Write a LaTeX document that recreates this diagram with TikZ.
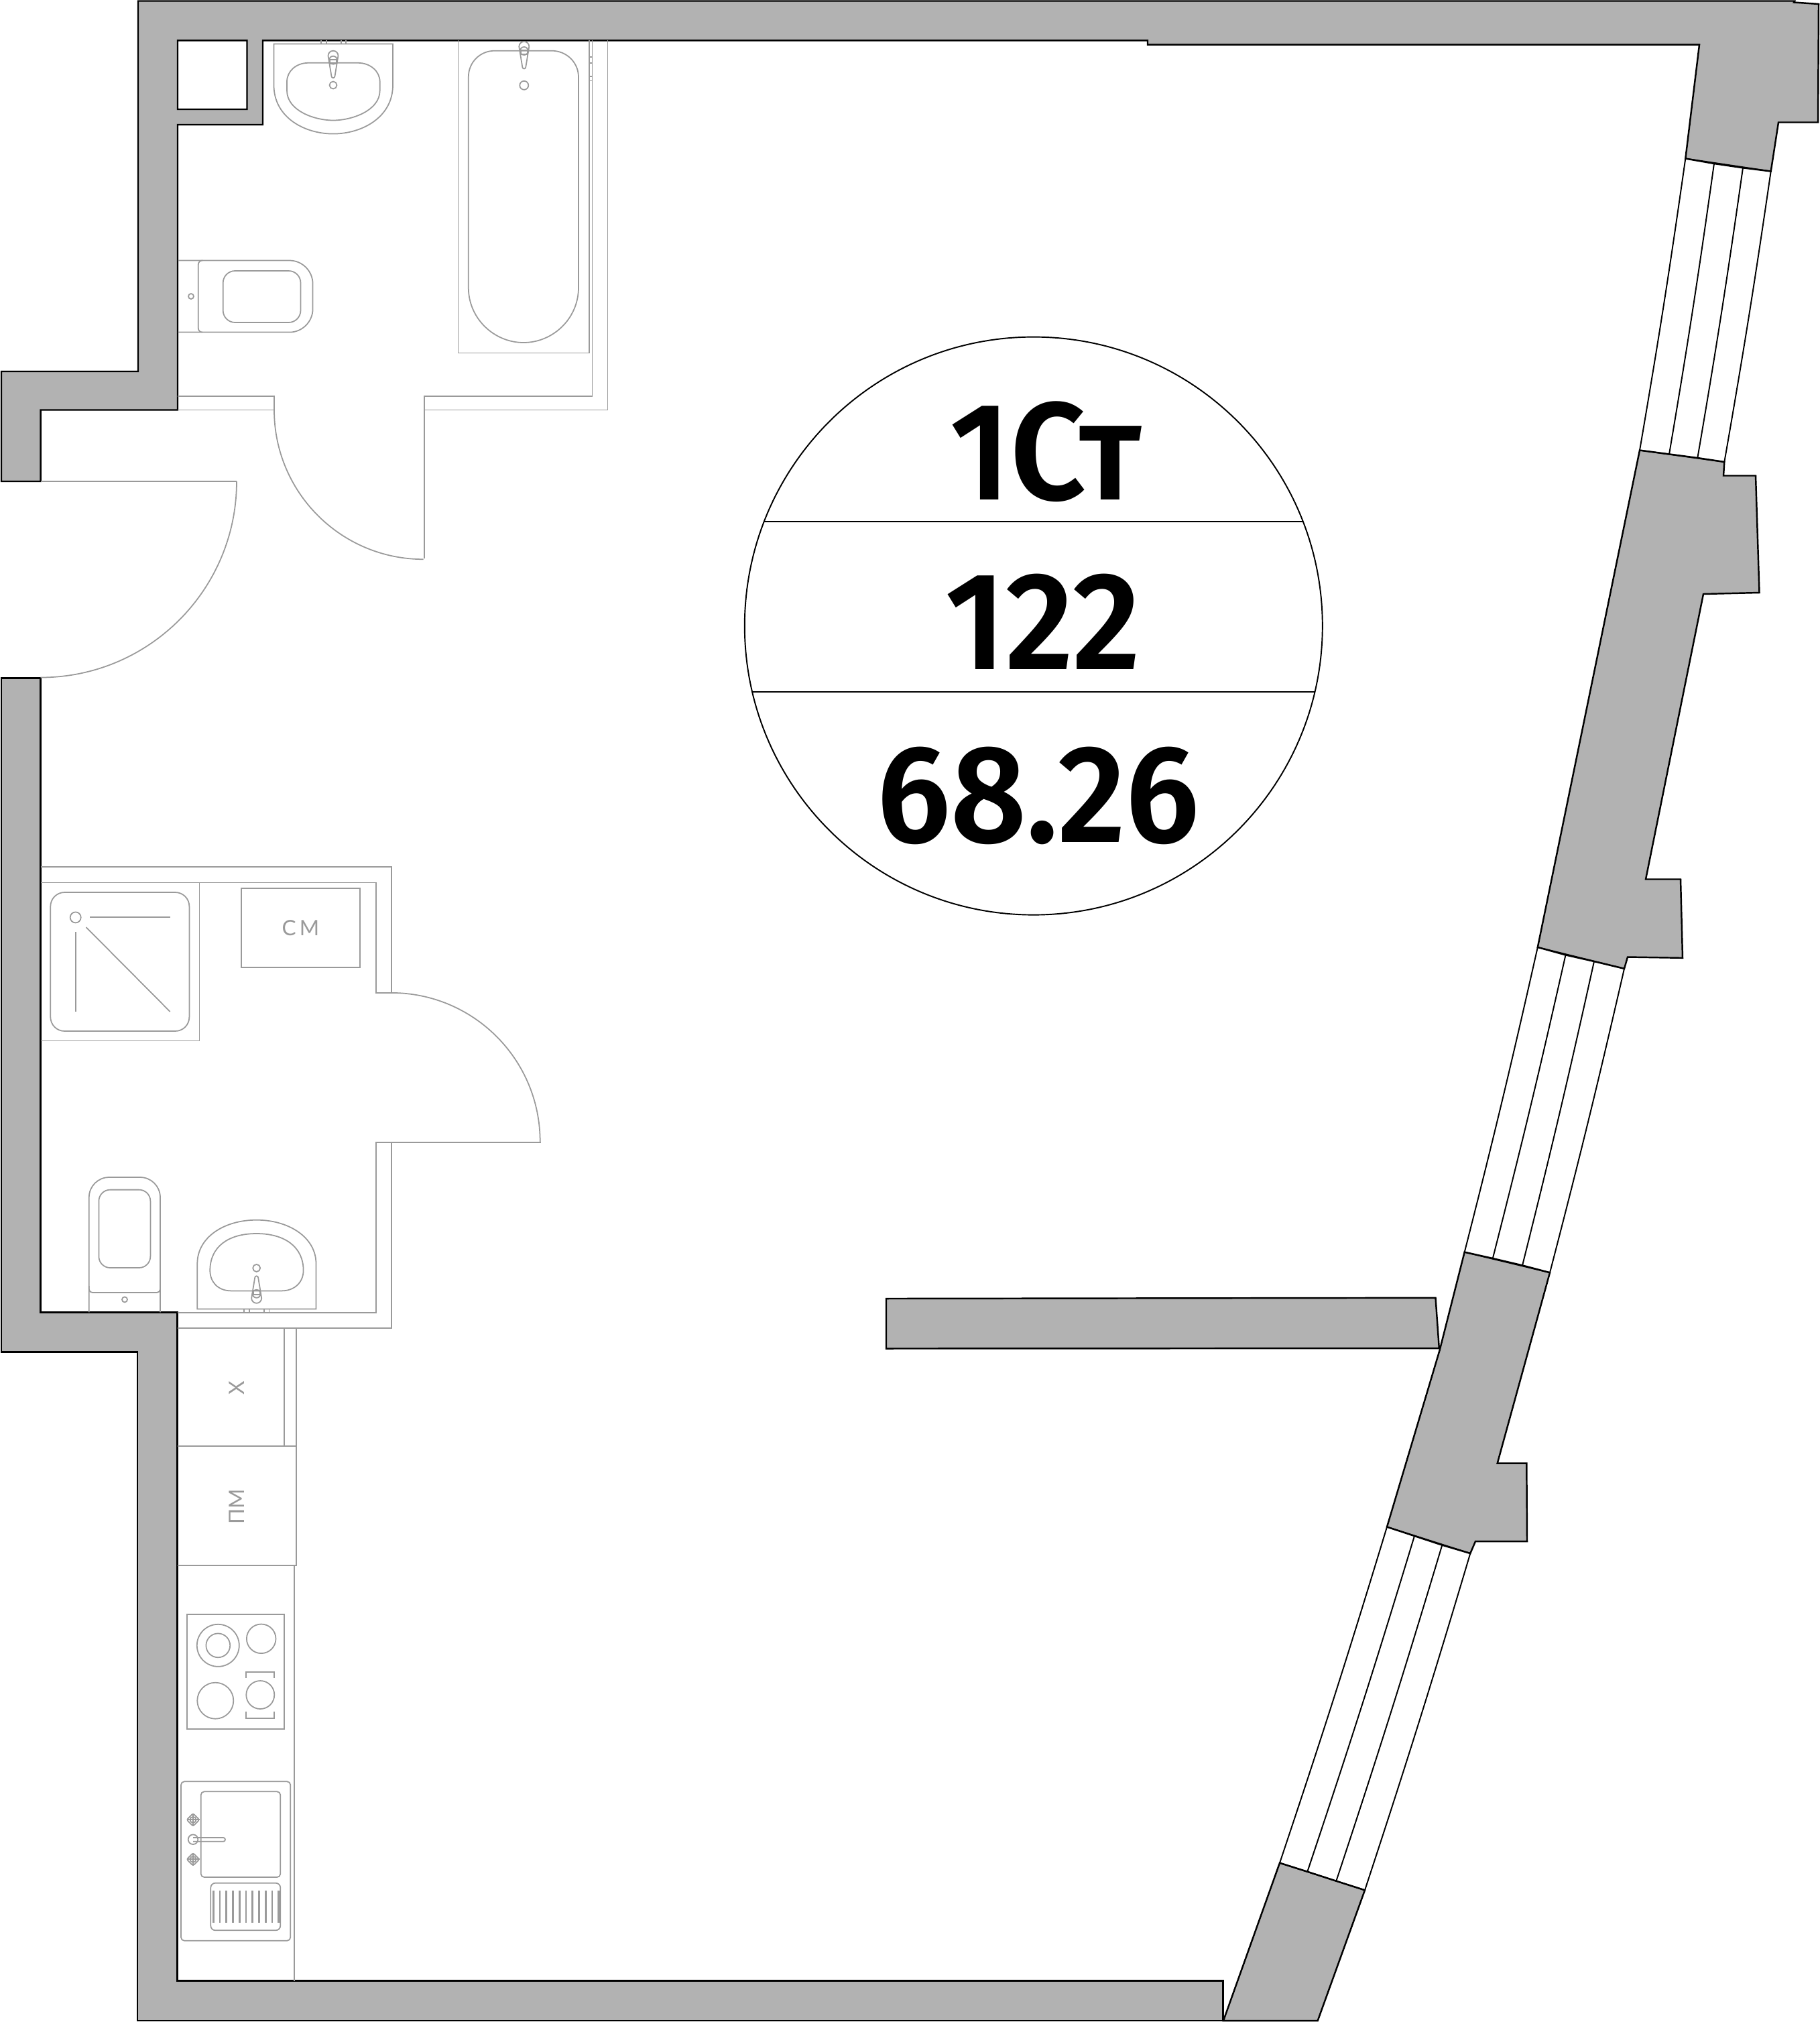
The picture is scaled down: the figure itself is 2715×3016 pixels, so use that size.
\documentclass[tikz,border=0pt]{standalone}
\usepackage{fontspec}
\setmainfont{Fira Sans}
\newfontfamily\labelfont{Lato}
\newfontfamily\badgefont{Fira Sans}[UprightFont=* SemiBold,FakeStretch=0.95]
\usepackage{xcolor}
\usepackage{tikz}
\definecolor{wallgray}{HTML}{B2B2B2}
\definecolor{fixgray}{HTML}{9A9A9A}
\tikzset{
  wall/.style={draw=black,fill=wallgray,line width=1.4pt},
  pane/.style={draw=black,line width=1.1pt},
  fixture/.style={draw=fixgray,line width=1pt},
  bigtext/.style={anchor=base,inner sep=0pt,font=\badgefont\fontsize{118}{120}\selectfont},
  smalltext/.style={inner sep=0pt,text=fixgray,font=\labelfont\fontsize{18}{20}\selectfont},
  tap/.pic={
    \draw[fixture] (-7.5,7.5) arc[start angle=180,end angle=360,radius=7.5] -- (2.5,38) arc[start angle=0,end angle=180,radius=2.5] -- cycle;
    \draw[fixture] (0,14) circle (6);
    \draw[fixture] (-5,13) rectangle (5,19);
  },
  valve/.pic={
    \draw[fixture,rounded corners=0.05cm] (-9.5,0) -- (0,-9.5) -- (9.5,0) -- (0,9.5) -- cycle;
    \draw[fixture] (-9.5,0) -- (9.5,0) (0,-9.5) -- (0,9.5);
    \draw[fixture] (0,0) circle (4.5);
  }
}
\begin{document}
\begin{tikzpicture}[x=0.02cm,y=-0.02cm]
\useasboundingbox (0,0) rectangle (2715,3016);

% Window corners
\coordinate (w1ta) at (2514.3,236.5); \coordinate (w1tb) at (2557,244);
\coordinate (w1tc) at (2600,250.3);   \coordinate (w1td) at (2641.7,255.5);
\coordinate (w1ba) at (2446,671.6);   \coordinate (w1bb) at (2490,677.4);
\coordinate (w1bc) at (2532.3,683);   \coordinate (w1bd) at (2572.3,689);
\coordinate (w2ta) at (2293.8,1412.9); \coordinate (w2tb) at (2335.5,1424.4);
\coordinate (w2tc) at (2378,1434);     \coordinate (w2td) at (2423,1444.8);
\coordinate (w2ba) at (2184.7,1867.6); \coordinate (w2bb) at (2226.8,1877);
\coordinate (w2bc) at (2271,1887.4);   \coordinate (w2bd) at (2312,1898.2);
\coordinate (w3ta) at (2069,2277.5);   \coordinate (w3tb) at (2110,2291);
\coordinate (w3tc) at (2151.3,2304.6); \coordinate (w3td) at (2193.3,2317);
\coordinate (w3ba) at (1909,2778.7);   \coordinate (w3bb) at (1950.3,2791.7);
\coordinate (w3bc) at (1993.3,2805.7); \coordinate (w3bd) at (2036,2819.3);

% Walls
\draw[wall,even odd rule] (206,1.5) -- (2677,1.5) -- (2676,3.5) -- (2713,6) -- (2712,182.5) -- (2653,182.5)
  -- (w1td) -- (w1tc) -- (w1tb) -- (w1ta) -- (2535,66.6) -- (1712,66.6) -- (1712,60.3) -- (392,60.3) -- (392,186)
  -- (265,186) -- (265,611.5) -- (60.6,611.5) -- (60.6,718) -- (2,718) -- (2,554) -- (206,554) -- cycle
  (265,60.3) rectangle (368.5,163);
\draw[wall] (2,1011.4) -- (60.6,1011.4) -- (60.6,1957.4) -- (264.5,1957.4) -- (264.5,2954.6) -- (1824.3,2954.6)
  -- (1824.3,3014) -- (205,3014) -- (205,2016.5) -- (2,2016.5) -- cycle;
\draw[wall] (w3ba) -- (w3bb) -- (w3bc) -- (w3bd) -- (1965.7,3014) -- (1825,3014) -- cycle;
\draw[wall] (w1ba) -- (w1bb) -- (w1bc) -- (w1bd) -- (2571,709.5) -- (2619,709.5) -- (2624.5,884) -- (2541,886)
  -- (2455,1311.5) -- (2507,1311.5) -- (2510,1428.8) -- (2428,1427.5) -- (w2td) -- (w2tc) -- (w2tb) -- (w2ta) -- cycle;
\draw[wall] (w2ba) -- (w2bb) -- (w2bc) -- (w2bd) -- (2233.7,2182.6) -- (2277.3,2182.6) -- (2278,2299) -- (2201,2299)
  -- (w3td) -- (w3tc) -- (w3tb) -- (w3ta) -- (2147.6,2014) -- cycle;
\draw[wall] (1322,1937) -- (2141.5,1935.8) -- (2146.8,2011) -- (1322,2011.5) -- cycle;

% Windows
\foreach \w in {1,2,3} {
  \draw[pane] (w\w ta) -- (w\w td);
  \draw[pane] (w\w ba) -- (w\w bd);
  \foreach \k in {a,b,c,d}
    \draw[pane] (w\w t\k) to[bend left=0.8] (w\w b\k);
}

% Doors and partitions, bathroom at the top
\draw[fixture] (353,718) -- (60.6,718);
\draw[fixture] (353,718) arc[start angle=0,end angle=90,radius=292.5];
\draw[fixture] (265,591) -- (409,591) -- (409,611.5) -- (265,611.5);
\draw[fixture] (632.7,832.5) -- (632.7,591) -- (883.6,591) -- (883.6,60.3);
\draw[fixture] (906.6,60.3) -- (906.6,611.5) -- (632.7,611.5);
\draw[fixture] (409,611.5) arc[start angle=180,end angle=90,radius=222.7];

% Bath
\draw[fixture] (683.6,60.3) -- (683.6,526.5) -- (878.8,526.5) -- (878.8,60.3);
\draw[fixture] (738,75.7) -- (823,75.7) .. controls (845,75.7) and (863,93) .. (863,115) -- (863,429)
  .. controls (863,475) and (825,511) .. (781,511) .. controls (737,511) and (698.8,475) .. (698.8,429)
  -- (698.8,115) .. controls (698.8,93) and (716,75.7) .. (738,75.7) -- cycle;
\pic at (781.8,62) {tap};
\draw[fixture] (781.8,127.3) circle (6.5);
\foreach \y in {85,94,114,120.6}
  \draw[fixture] (878.8,\y) -- (883.6,\y);

% Washbasin, top
\draw[fixture] (408.5,65.6) -- (586,65.6) -- (586,127) .. controls (586,175) and (540,199.6) .. (497,199.6)
  .. controls (454,199.6) and (408.5,175) .. (408.5,127) -- cycle;
\draw[fixture] (460,93.8) -- (534,93.8) .. controls (552,93.8) and (566.7,106) .. (566.7,122) -- (566.7,135)
  .. controls (566.7,165) and (525,179.5) .. (497,179.5) .. controls (469,179.5) and (428,165) .. (428,135)
  -- (428,122) .. controls (428,106) and (442,93.8) .. (460,93.8) -- cycle;
\pic at (497,75.7) {tap};
\draw[fixture] (497,127) circle (5.5);
\foreach \x in {479,487,509,516}
  \draw[fixture] (\x,60.3) -- (\x,65.6);

% Toilet, top
\draw[fixture,rounded corners=0.7cm] (265.5,388.5) -- (466.6,388.5) -- (466.6,495.6) -- (265.5,495.6);
\draw[fixture,rounded corners=0.12cm] (302,388.5) -- (295.8,388.5) -- (295.8,495.6) -- (302,495.6);
\draw[fixture,rounded corners=0.36cm] (332.7,404) rectangle (448.5,481);
\draw[fixture] (285,442) circle (4);

% Utility room
\draw[fixture] (60.7,1293.3) -- (583.7,1293.3) -- (583.7,1480.9) -- (561,1480.9) -- (561,1316.5) -- (60.7,1316.5);
\draw[fixture] (583.7,1480.9) arc[start angle=-90,end angle=0,radius=222];
\draw[fixture] (805.7,1702.9) -- (805.7,1704.3) -- (561,1704.3) -- (561,1958.3) -- (264.5,1958.3);
\draw[fixture] (583.7,1704.3) -- (583.7,1981) -- (264.5,1981);

% Shower
\draw[fixture] (60.7,1552.6) -- (297.6,1552.6) -- (297.6,1316.5);
\draw[fixture,rounded corners=0.42cm] (75.3,1331) rectangle (282.4,1538);
\draw[fixture] (112.7,1368.4) circle (8);
\draw[fixture] (134.4,1368) -- (253.7,1368);
\draw[fixture] (112.7,1390) -- (112.7,1509);
\draw[fixture] (128.5,1383) -- (253.7,1509);

% Washing machine
\draw[fixture] (360,1324.8) rectangle (537,1443);
\node[smalltext] (washlabel) at (448.5,1384) {С\hspace{3pt}М};

% Toilet, lower
\draw[fixture,rounded corners=0.6cm] (132.8,1957.4) -- (132.8,1756) -- (239,1756) -- (239,1957.4);
\draw[fixture,rounded corners=0.1cm] (132.8,1918) -- (132.8,1928) -- (239,1928) -- (239,1918);
\draw[fixture,rounded corners=0.34cm] (147.4,1774.6) rectangle (224.4,1891);
\draw[fixture] (186,1938.4) circle (4);

% Washbasin, lower
\draw[fixture] (294.3,1952.5) -- (294.3,1885) .. controls (294.3,1845) and (335,1819.7) .. (382.7,1819.7)
  .. controls (430,1819.7) and (471.5,1845) .. (471.5,1885) -- (471.5,1952.5) -- cycle;
\draw[fixture] (345,1925.4) -- (420,1925.4) .. controls (440,1925.4) and (452.6,1912) .. (452.6,1895)
  .. controls (452.6,1860) and (425,1840) .. (382.7,1840) .. controls (340,1840) and (313.3,1860) .. (313.3,1895)
  .. controls (313.3,1912) and (325,1925.4) .. (345,1925.4) -- cycle;
\pic[yscale=-1] at (382.7,1943.8) {tap};
\draw[fixture] (382.7,1891.4) circle (5.5);
\foreach \x in {364,372,394,401.6}
  \draw[fixture] (\x,1952.5) -- (\x,1958.3);

% Kitchen units
\draw[fixture] (423.7,1981) -- (423.7,2157.3);
\draw[fixture] (441.7,1981) -- (441.7,2334.8) -- (264.5,2334.8);
\draw[fixture] (264.5,2157.3) -- (441.7,2157.3);
\draw[fixture] (439,2334.8) -- (439,2954.6);
\node[smalltext,rotate=90] (fridgelabel) at (352.7,2070.3) {Х};
\node[smalltext,rotate=90] (dishlabel) at (352.7,2247) {ПМ};

% Hob
\draw[fixture] (279,2408) rectangle (424.3,2579.3);
\draw[fixture] (325.3,2454.3) circle (31.5);
\draw[fixture] (325.3,2454.3) circle (17.9);
\draw[fixture] (389.7,2444.3) circle (21.8);
\draw[fixture] (321.3,2536.7) circle (27);
\draw[fixture] (388.3,2528) circle (21);
\draw[fixture] (367,2502.7) -- (367,2493.7) -- (409,2493.7) -- (409,2502.7);
\draw[fixture] (367,2553.3) -- (367,2563) -- (409,2563) -- (409,2553.3);

% Kitchen sink
\draw[fixture,rounded corners=0.1cm] (270,2657.3) rectangle (433.3,2894.7);
\draw[fixture,rounded corners=0.1cm] (299.7,2672.3) rectangle (418.3,2800);
\draw[fixture,rounded corners=0.14cm] (314.3,2808.7) rectangle (418.3,2879.3);
\foreach \x in {318.3,328,337.7,347.3,357.3,367,376.7,386.7,396.3,406}
  \fill[fixgray] (\x-1.3,2820) rectangle (\x+1.3,2868.3);
\fill[fixgray] (414,2820) rectangle (418,2868.3);
\draw[fixture] (288,2743.7) circle (7.3);
\draw[fixture,rounded corners=0.055cm] (288,2741) -- (336,2741) -- (336,2746.7) -- (288,2746.7);
\pic at (288,2714.3) {valve};
\pic at (288,2773.3) {valve};

% Badge
\draw[black,line width=1.1pt] (1541.8,933.6) circle (431);
\draw[black,line width=1.1pt] (1140,778) -- (1944,778);
\draw[black,line width=1.1pt] (1122,1031.7) -- (1961.5,1031.7);
\node[bigtext] (typelabel) at (1560,745.8) {1Ст};
\node[bigtext] (numlabel) at (1556,998) {122};
\node[bigtext] (arealabel) at (1549,1256) {68.26};
\end{tikzpicture}
\end{document}
